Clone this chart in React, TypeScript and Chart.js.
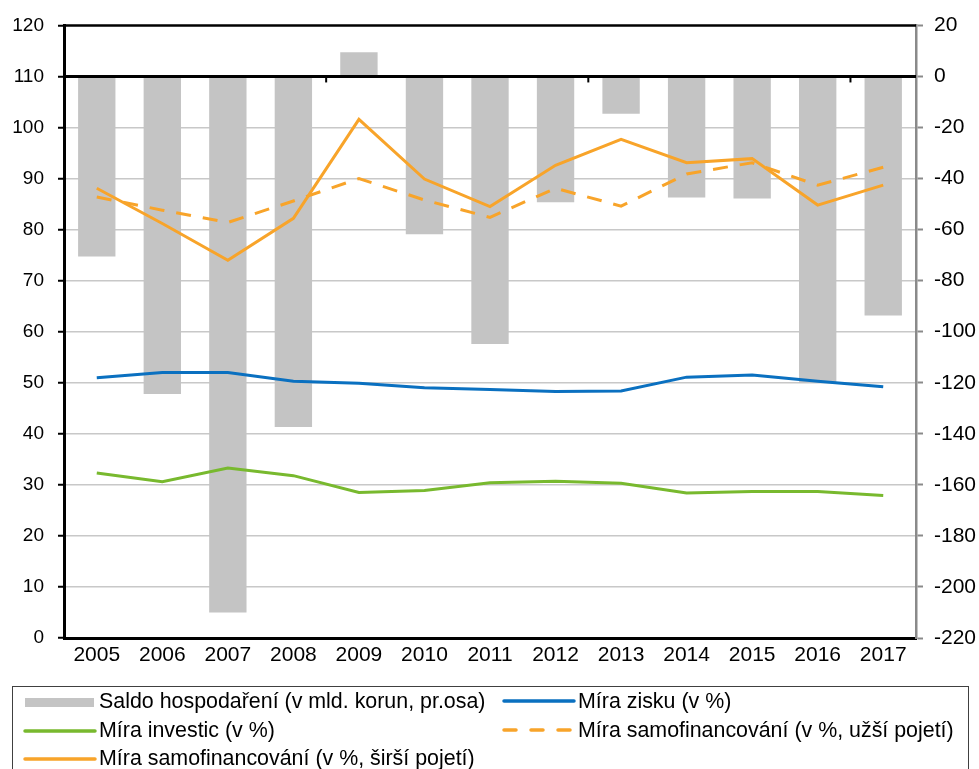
import React, { useEffect, useRef } from "react";
import { Chart, registerables } from "chart.js";
Chart.register(...registerables);

const years = ["2005", "2006", "2007", "2008", "2009", "2010", "2011", "2012", "2013", "2014", "2015", "2016", "2017"];
const saldo = [-70.5, -124.4, -210, -137.3, 9.5, -61.8, -104.8, -49.3, -14.6, -47.4, -47.8, -120.1, -93.7];
const miraZisku = [51.0, 52.0, 52.0, 50.3, 49.9, 49.0, 48.7, 48.3, 48.4, 51.1, 51.5, 50.3, 49.2];
const miraInvestic = [32.3, 30.6, 33.3, 31.8, 28.5, 28.9, 30.4, 30.7, 30.3, 28.4, 28.7, 28.7, 27.9];
const samofinUzsi = [86.4, 83.8, 81.4, 85.6, 90.0, 85.8, 82.4, 88.1, 84.6, 90.9, 93.1, 88.7, 92.2];
const samofinSirsi = [88.1, 81.2, 74.0, 82.2, 101.6, 89.9, 84.5, 92.6, 97.7, 93.1, 93.9, 84.8, 88.7];

const legendLabels = [
  "Saldo hospodaření (v mld. korun, pr.osa)",
  "Míra zisku (v %)",
  "Míra investic (v %)",
  "Míra samofinancování (v %, užší pojetí)",
  "Míra samofinancování (v %, širší pojetí)",
];

const GRAY = "#c4c4c4";
const BLUE = "#0a70c0";
const GREEN = "#78b92e";
const ORANGE = "#f8a42a";
const FONT = "'Liberation Sans', Arial, sans-serif";

const framePlugin = {
  id: "frame",
  afterDatasetsDraw(chart: any) {
    const { ctx, chartArea, scales } = chart;
    const { left, right, top } = chartArea;
    const y0 = scales.y1.getPixelForValue(0);
    ctx.save();
    ctx.strokeStyle = "#000";
    ctx.lineWidth = 3;
    ctx.beginPath();
    ctx.moveTo(left, y0);
    ctx.lineTo(right, y0);
    ctx.stroke();
    ctx.lineWidth = 2.5;
    ctx.beginPath();
    ctx.moveTo(left, top);
    ctx.lineTo(right, top);
    ctx.stroke();
    ctx.lineWidth = 2;
    const step = (right - left) / years.length;
    for (const k of [4, 8, 12]) {
      const x = left + step * k;
      ctx.beginPath();
      ctx.moveTo(x, y0);
      ctx.lineTo(x, y0 + 6);
      ctx.stroke();
    }
    ctx.restore();
  },
};

export default function App() {
  const ref = useRef<HTMLCanvasElement>(null);
  useEffect(() => {
    document.body.style.margin = "0";
    document.body.style.overflow = "hidden";
    const chart = new Chart(ref.current!, {
      type: "bar",
      data: {
        labels: years,
        datasets: [
          {
            type: "bar",
            label: legendLabels[0],
            data: saldo,
            backgroundColor: GRAY,
            yAxisID: "y1",
            categoryPercentage: 1,
            barPercentage: 0.57,
            order: 10,
          },
          {
            type: "line",
            label: legendLabels[1],
            data: miraZisku,
            borderColor: BLUE,
            borderWidth: 3,
            pointRadius: 0,
            yAxisID: "y",
            order: 4,
          },
          {
            type: "line",
            label: legendLabels[2],
            data: miraInvestic,
            borderColor: GREEN,
            borderWidth: 3,
            pointRadius: 0,
            yAxisID: "y",
            order: 3,
          },
          {
            type: "line",
            label: legendLabels[3],
            data: samofinUzsi,
            borderColor: ORANGE,
            borderWidth: 3,
            borderDash: [15, 12],
            pointRadius: 0,
            yAxisID: "y",
            order: 2,
          },
          {
            type: "line",
            label: legendLabels[4],
            data: samofinSirsi,
            borderColor: ORANGE,
            borderWidth: 3,
            pointRadius: 0,
            yAxisID: "y",
            order: 1,
          },
        ] as any,
      },
      options: {
        responsive: false,
        animation: false,
        devicePixelRatio: 1,
        layout: { padding: { top: 23, left: 0, right: 0, bottom: 0 } },
        plugins: { legend: { display: false }, tooltip: { enabled: false }, title: { display: false } },
        scales: {
          x: {
            grid: { display: false, drawTicks: false },
            border: { color: "#000", width: 3 },
            ticks: { color: "#000", font: { family: FONT, size: 21 }, padding: 5, maxRotation: 0 },
            afterFit: (s: any) => {
              s.height = 769 - 638;
            },
          },
          y: {
            position: "left",
            min: 0,
            max: 120,
            ticks: { stepSize: 10, color: "#000", font: { family: FONT, size: 19 }, padding: 14 },
            grid: {
              color: (c: any) => (c.tick && (c.tick.value === 0 || c.tick.value === 120) ? "rgba(0,0,0,0)" : "#c8c8c8"),
              lineWidth: 1.5,
              tickColor: "#000",
              tickWidth: 2,
              tickLength: 6,
            },
            border: { color: "#000", width: 3 },
            afterFit: (s: any) => {
              s.width = 64;
            },
          },
          y1: {
            position: "right",
            min: -220,
            max: 20,
            ticks: { stepSize: 20, color: "#000", font: { family: FONT, size: 21 }, padding: 11 },
            grid: { drawOnChartArea: false, tickColor: "#8a8a8a", tickWidth: 2, tickLength: 7 },
            border: { color: "#8a8a8a", width: 2.5 },
            afterFit: (s: any) => {
              s.width = 979 - 916;
            },
          },
        },
      },
      plugins: [framePlugin],
    });
    return () => chart.destroy();
  }, []);

  const textStyle: React.CSSProperties = {
    position: "absolute",
    fontFamily: FONT,
    fontSize: 21.4,
    color: "#000",
    whiteSpace: "nowrap",
    lineHeight: "24px",
  };

  const sym = (x: number, y: number, color: string, dash?: string, rect?: boolean) =>
    rect ? (
      <div style={{ position: "absolute", left: x, top: y - 4.5, width: 69, height: 9, background: color }} />
    ) : (
      <svg style={{ position: "absolute", left: x, top: y - 3, overflow: "visible" }} width={72} height={6}>
        <line x1={0} y1={3} x2={70} y2={3} stroke={color} strokeWidth={3.5} strokeDasharray={dash} strokeLinecap="round" />
      </svg>
    );

  return (
    <div style={{ position: "absolute", left: 0, top: 0, width: 979, height: 769, overflow: "hidden", background: "#fff" }}>
      <canvas ref={ref} width={979} height={769} style={{ position: "absolute", left: 0, top: 0, width: 979, height: 769 }} />
      <div
        style={{
          position: "absolute",
          left: 12,
          top: 686,
          width: 957,
          height: 120,
          border: "1.5px solid #404040",
          boxSizing: "border-box",
        }}
      />
      {sym(25, 702, GRAY, undefined, true)}
      <div style={{ ...textStyle, left: 99, top: 689 }}>{legendLabels[0]}</div>
      {sym(504, 701, BLUE)}
      <div style={{ ...textStyle, left: 578, top: 689 }}>{legendLabels[1]}</div>
      {sym(25, 731, GREEN)}
      <div style={{ ...textStyle, left: 99, top: 718 }}>{legendLabels[2]}</div>
      {sym(504, 730, ORANGE, "12 15")}
      <div style={{ ...textStyle, left: 578, top: 718 }}>{legendLabels[3]}</div>
      {sym(25, 759, ORANGE)}
      <div style={{ ...textStyle, left: 99, top: 746 }}>{legendLabels[4]}</div>
    </div>
  );
}
